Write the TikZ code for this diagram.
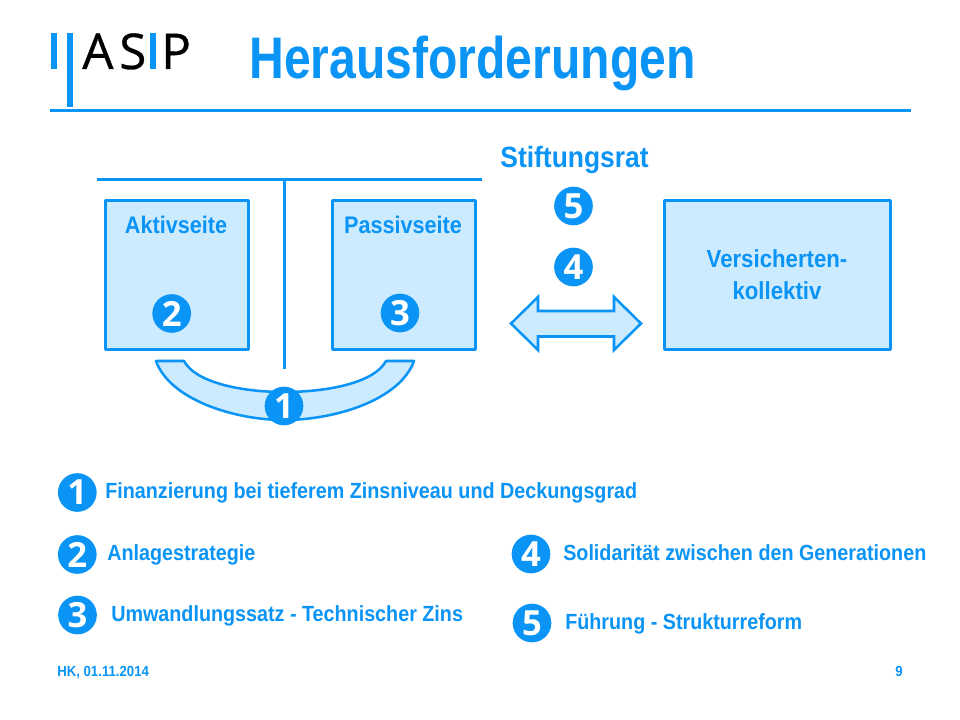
\documentclass[tikz,border=0pt]{standalone}
\usepackage{fontspec}
\setmainfont{Liberation Sans}
\newfontfamily\logofont[FakeBold=0.6]{Open Sans}
\newfontfamily\digitfont{Open Sans}
\newfontfamily\condfont[FakeStretch=0.9]{Liberation Sans}
\newfontfamily\titlefont[FakeStretch=0.82]{Liberation Sans}
\definecolor{asipblue}{HTML}{0A94F5}
\definecolor{asipfill}{HTML}{CCEBFF}
\tikzset{
  rule/.style={draw=asipblue,line width=2.25pt},
  panel/.style={draw=asipblue,fill=asipfill,line width=2.25pt,line join=round},
  thinpanel/.style={panel,line width=1.9pt},
  boxnode/.style={panel,inner sep=0pt,minimum height=112pt},
  badge/.style={circle,fill=asipblue,inner sep=0pt,minimum size=29pt,text=white,font=\digitfont\bfseries\fontsize{26}{26}\selectfont},
  btext/.style={text=asipblue,font=\condfont\bfseries\fontsize{18}{24}\selectfont,inner sep=0pt,align=center},
  ltext/.style={text=asipblue,inner sep=0pt,anchor=base west,font=\condfont\bfseries\fontsize{16.45}{18}\selectfont},
  foottext/.style={text=asipblue,inner sep=0pt,font=\condfont\bfseries\fontsize{11}{12}\selectfont},
  logol/.style={anchor=base west,inner sep=0pt,font=\logofont\fontsize{37}{37}\selectfont},
}
\begin{document}
\begin{tikzpicture}[x=0.75pt,y=-0.75pt]
\useasboundingbox (0,0) rectangle (960,720);
\fill[white] (0,0) rectangle (960,720);
% logo
\fill[asipblue] (51,33) rectangle (57,69);
\fill[asipblue] (67,33) rectangle (73,107);
\fill[asipblue] (150,33) rectangle (156,69);
\node[logol] (logoA) at (82,69) {A};
\node[logol] (logoS) at (119,69) {S};
\node[logol] (logoP) at (161,69) {P};
\node[anchor=base west,inner sep=0pt,text=asipblue,font=\titlefont\bfseries\fontsize{44}{44}\selectfont] (title) at (249,79) {Herausforderungen};
\draw[rule] (50,111) -- (911,111);
% T account
\coordinate (tl) at (97,180);
\coordinate (tr) at (482,180);
\coordinate (tm) at (284.5,180);
\coordinate (tb) at (284.5,369);
\draw[rule] (tl) -- (tr);
\draw[rule] (tm) -- (tb);
% boxes
\node[boxnode,minimum width=107pt] (aktiv) at (176.7,275) {};
\node[boxnode,minimum width=107pt] (passiv) at (404.2,275) {};
\node[boxnode,minimum width=169.5pt] (vers) at (777,275) {};
\node[btext,anchor=base] (aktivt) at (176,234) {Aktivseite};
\node[btext,anchor=base] (passivt) at (403,234) {Passivseite};
\node[btext,font=\condfont\bfseries\fontsize{18.5}{24}\selectfont] (verst) at (777,275) {Versicherten-\\kollektiv};
\node[btext,anchor=base,font=\condfont\bfseries\fontsize{22}{24}\selectfont] (stift) at (574.5,167.5) {Stiftungsrat};
% arc
\draw[thinpanel] (156,361) .. controls (170,400) and (235,420) .. (284,420)
  .. controls (335,420) and (400,400) .. (414,361) -- (386,361)
  .. controls (375,382) and (330,392) .. (284,392)
  .. controls (240,392) and (195,382) .. (184,361) -- cycle;
% double arrow
\draw[thinpanel,line join=miter] (511,323.5) -- (538,297) -- (538,311) -- (614,311) -- (614,297) -- (641,323.5) -- (614,350) -- (614,336.5) -- (538,336.5) -- (538,350) -- cycle;
% badges in the diagram
\node[badge] (b1) at (284,406) {1};
\node[badge] (b2) at (171.7,313.5) {2};
\node[badge] (b3) at (400,313) {3};
\node[badge] (b5) at (573.5,206) {5};
\node[badge] (b4) at (573.5,267) {4};
% legend
\node[badge] (l1) at (77.3,492.5) {1};
\node[badge] (l2) at (77.3,554.5) {2};
\node[badge] (l3) at (77.5,615) {3};
\node[badge] (l4) at (531,554) {4};
\node[badge] (l5) at (532,623) {5};
\node[ltext] (t1) at (105,498.5) {Finanzierung bei tieferem Zinsniveau und Deckungsgrad};
\node[ltext] (t2) at (107,560) {Anlagestrategie};
\node[ltext] (t3) at (111,621.5) {Umwandlungssatz - Technischer Zins};
\node[ltext] (t4) at (563,560) {Solidarität zwischen den Generationen};
\node[ltext] (t5) at (565,629.5) {Führung - Strukturreform};
\node[foottext,anchor=base west] (foot) at (57,676) {HK, 01.11.2014};
\node[foottext,anchor=base east] (page) at (903,676) {9};
\end{tikzpicture}
\end{document}
